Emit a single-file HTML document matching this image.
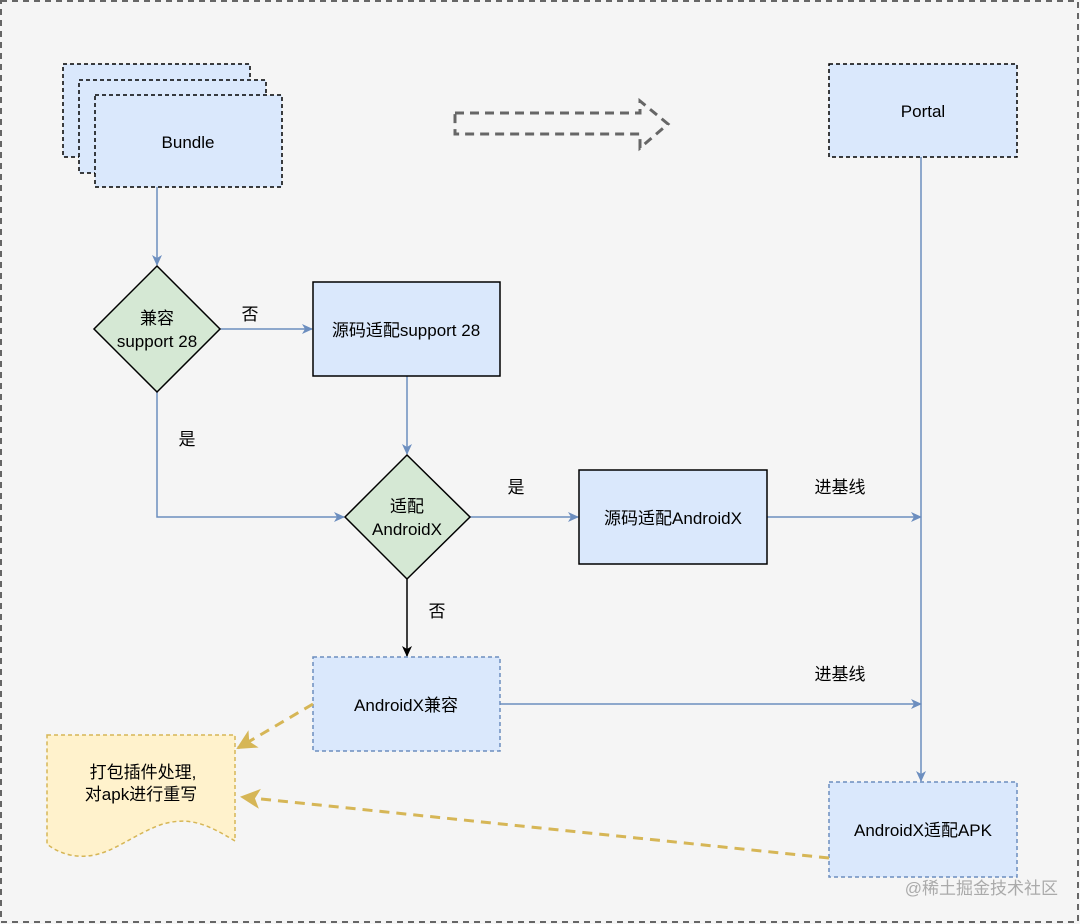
<!DOCTYPE html>
<html><head><meta charset="utf-8"><style>
html,body{margin:0;padding:0;background:#f5f5f5;}
svg{display:block;}
text{font-family:"Liberation Sans","Noto Sans CJK SC",sans-serif;font-size:17px;fill:#000;}
</style></head><body>
<svg width="1080" height="924" viewBox="0 0 1080 924" xmlns="http://www.w3.org/2000/svg">
<defs>
<marker id="ab" markerWidth="12" markerHeight="12" refX="10" refY="6" orient="auto" markerUnits="userSpaceOnUse"><path d="M0,1 L11,6 L0,11 L3,6 Z" fill="#6c8ebf"/></marker>
<marker id="ak" markerWidth="12" markerHeight="12" refX="10" refY="6" orient="auto" markerUnits="userSpaceOnUse"><path d="M0,1 L11,6 L0,11 L3,6 Z" fill="#000"/></marker>
<marker id="ay" markerWidth="22" markerHeight="22" refX="18" refY="11" orient="auto" markerUnits="userSpaceOnUse"><path d="M0,1 L20,11 L0,21 L5,11 Z" fill="#d6b656"/></marker>
</defs>
<rect x="0" y="0" width="1080" height="924" fill="#f5f5f5"/>
<rect x="1" y="1" width="1077" height="921" fill="none" stroke="#666" stroke-width="2" stroke-dasharray="6,5"/>

<rect x="63" y="64" width="187" height="93" fill="#dae8fc" stroke="#000" stroke-width="1.5" stroke-dasharray="4,3"/>
<rect x="79" y="80" width="187" height="93" fill="#dae8fc" stroke="#000" stroke-width="1.5" stroke-dasharray="4,3"/>
<rect x="95" y="95" width="187" height="92" fill="#dae8fc" stroke="#000" stroke-width="1.5" stroke-dasharray="4,3"/>
<text x="188" y="148" text-anchor="middle">Bundle</text>

<path d="M455,113 L640,113 L640,101 L668,124 L640,148 L640,134 L455,134 Z" fill="none" stroke="#666" stroke-width="3" stroke-dasharray="9,6"/>

<rect x="829" y="64" width="188" height="93" fill="#dae8fc" stroke="#000" stroke-width="1.5" stroke-dasharray="4,3"/>
<text x="923" y="117" text-anchor="middle">Portal</text>

<line x1="157" y1="187" x2="157" y2="265" stroke="#6c8ebf" stroke-width="1.5" marker-end="url(#ab)"/>
<line x1="220" y1="329" x2="312" y2="329" stroke="#6c8ebf" stroke-width="1.5" marker-end="url(#ab)"/>
<line x1="407" y1="376" x2="407" y2="454" stroke="#6c8ebf" stroke-width="1.5" marker-end="url(#ab)"/>
<polyline points="157,392 157,517 344,517" fill="none" stroke="#6c8ebf" stroke-width="1.5" marker-end="url(#ab)"/>
<line x1="470" y1="517" x2="578" y2="517" stroke="#6c8ebf" stroke-width="1.5" marker-end="url(#ab)"/>
<line x1="767" y1="517" x2="921" y2="517" stroke="#6c8ebf" stroke-width="1.5" marker-end="url(#ab)"/>
<line x1="407" y1="579" x2="407" y2="656" stroke="#000" stroke-width="1.5" marker-end="url(#ak)"/>
<line x1="500" y1="704" x2="921" y2="704" stroke="#6c8ebf" stroke-width="1.5" marker-end="url(#ab)"/>
<line x1="921" y1="157" x2="921" y2="781" stroke="#6c8ebf" stroke-width="1.5" marker-end="url(#ab)"/>

<polygon points="157,266 220,329 157,392 94,329" fill="#d5e8d4" stroke="#000" stroke-width="1.5"/>
<text x="157" y="324" text-anchor="middle">兼容</text>
<text x="157" y="347" text-anchor="middle">support 28</text>
<polygon points="407,455 470,517 407,579 345,517" fill="#d5e8d4" stroke="#000" stroke-width="1.5"/>
<text x="407" y="512" text-anchor="middle">适配</text>
<text x="407" y="535" text-anchor="middle">AndroidX</text>

<rect x="313" y="282" width="187" height="94" fill="#dae8fc" stroke="#000" stroke-width="1.5"/>
<text x="406" y="336" text-anchor="middle">源码适配support 28</text>
<rect x="579" y="470" width="188" height="94" fill="#dae8fc" stroke="#000" stroke-width="1.5"/>
<text x="673" y="524" text-anchor="middle">源码适配AndroidX</text>
<rect x="313" y="657" width="187" height="94" fill="#dae8fc" stroke="#6c8ebf" stroke-width="1.5" stroke-dasharray="4,3"/>
<text x="406" y="711" text-anchor="middle">AndroidX兼容</text>
<rect x="829" y="782" width="188" height="95" fill="#dae8fc" stroke="#6c8ebf" stroke-width="1.5" stroke-dasharray="4,3"/>
<text x="923" y="836" text-anchor="middle">AndroidX适配APK</text>

<path d="M47,735 L235,735 L235,841 C210,826 190,815 160,825 C125,838 105,862 70,855 C58,852 52,848 47,844 Z" fill="#fff2cc" stroke="#d6b656" stroke-width="1.5" stroke-dasharray="4,3"/>
<text x="143" y="778" text-anchor="middle">打包插件处理,</text>
<text x="141" y="800" text-anchor="middle">对apk进行重写</text>

<line x1="313" y1="704" x2="238" y2="748" stroke="#d6b656" stroke-width="3" stroke-dasharray="10,7" marker-end="url(#ay)"/>
<line x1="829" y1="858" x2="242" y2="797" stroke="#d6b656" stroke-width="3" stroke-dasharray="10,7" marker-end="url(#ay)"/>

<text x="250" y="320" text-anchor="middle">否</text>
<text x="187" y="445" text-anchor="middle">是</text>
<text x="516" y="493" text-anchor="middle">是</text>
<text x="437" y="617" text-anchor="middle">否</text>
<text x="840" y="493" text-anchor="middle">进基线</text>
<text x="840" y="680" text-anchor="middle">进基线</text>

<text x="1058" y="894" text-anchor="end" style="fill:#aaa;font-size:17px;">@稀土掘金技术社区</text>
</svg>
</body></html>
